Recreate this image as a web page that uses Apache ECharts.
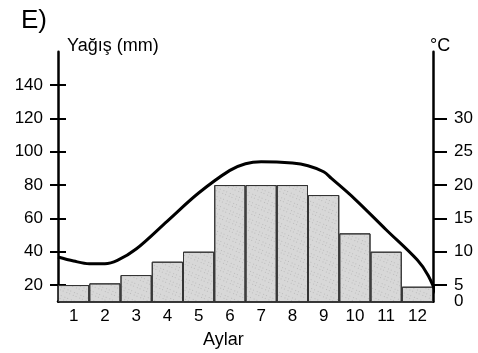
<!DOCTYPE html>
<html>
<head>
<meta charset="utf-8">
<script src="https://cdn.jsdelivr.net/npm/echarts@6/dist/echarts.min.js"></script>
<style>
html,body{margin:0;padding:0;background:#fff;}
#c{width:478px;height:353px;}
</style>
</head>
<body>
<div id="c"></div>
<script>
// Categories (months)
const months = ['1','2','3','4','5','6','7','8','9','10','11','12'];
// Precipitation (mm)
const rainfall = [20, 21, 26, 34, 40, 80, 80, 80, 74, 51, 40, 19];
// Temperature curve (°C) at month positions
const tempMonths = [0.5, 1, 1.5, 2, 2.4, 3, 4, 5, 6, 6.5, 7, 8, 8.5, 9, 9.25, 10, 11, 12, 12.35, 12.7];
const tempValues = [9.2, 8.6, 8.2, 8.2, 8.7, 10.4, 14.6, 18.8, 22.2, 23.2, 23.5, 23.3, 22.9, 22.0, 21.0, 17.9, 13.3, 8.75, 6.4, 2.6];
// Tick labels
const leftTicks = [20, 40, 60, 80, 100, 120, 140];
const rightTicks = [5, 10, 15, 20, 25, 30];
const rightZeroPos = 2.6;   // where the "0" label of the °C axis is printed (at the base line)

const FONT = 'Liberation Sans, Arial, sans-serif';
const chart = echarts.init(document.getElementById('c'), null, {renderer: 'canvas'});

const tempData = tempMonths.map((m, i) => [m, tempValues[i]]);

const rightLabel = {color: '#000', fontSize: 17, fontFamily: FONT, margin: 21};

chart.setOption({
  animation: false,
  backgroundColor: '#fff',
  grid: {left: 58, right: 45, top: 51.7, bottom: 51.3},
  graphic: [
    {type: 'text', left: 21, top: 8, style: {text: 'E)', font: '26px ' + FONT, fill: '#000'}},
    {type: 'text', left: 67, top: 37, style: {text: 'Yağış (mm)', font: '18px ' + FONT, fill: '#000'}},
    {type: 'text', left: 430, top: 37, style: {text: '°C', font: '18px ' + FONT, fill: '#000'}},
    {type: 'text', left: 203, top: 331, style: {text: 'Aylar', font: '18px ' + FONT, fill: '#000'}}
  ],
  xAxis: [
    {
      type: 'category', data: months, boundaryGap: true,
      axisLine: {show: true, lineStyle: {color: '#000', width: 2.5}},
      axisTick: {show: false},
      axisLabel: {color: '#000', fontSize: 17, fontFamily: FONT, margin: 6}
    },
    {type: 'value', min: 0.5, max: 12.5, show: false}
  ],
  yAxis: [
    {
      type: 'value', min: 10, max: 160, position: 'left',
      splitLine: {show: false},
      axisLine: {show: true, lineStyle: {color: '#000', width: 2.5}},
      axisTick: {show: true, length: 8, customValues: leftTicks, lineStyle: {color: '#000', width: 2}},
      axisLabel: {color: '#000', fontSize: 17, fontFamily: FONT, margin: 15, customValues: leftTicks}
    },
    {
      type: 'value', min: 2.5, max: 40, position: 'right',
      splitLine: {show: false},
      axisLine: {show: true, lineStyle: {color: '#000', width: 2.5}},
      axisTick: {show: true, length: 14, customValues: rightTicks, lineStyle: {color: '#000', width: 2}},
      axisLabel: Object.assign({customValues: rightTicks}, rightLabel)
    },
    {
      type: 'value', min: 10, max: 160, position: 'left',
      splitLine: {show: false},
      axisLine: {show: false},
      axisTick: {show: true, inside: true, length: 8, customValues: leftTicks, lineStyle: {color: '#000', width: 2}},
      axisLabel: {show: false}
    },
    {
      type: 'value', min: 2.5, max: 40, position: 'right',
      splitLine: {show: false},
      axisLine: {show: false},
      axisTick: {show: false},
      axisLabel: Object.assign({customValues: [rightZeroPos], showMinLabel: true, formatter: () => '0'}, rightLabel)
    }
  ],
  series: [
    {
      type: 'bar', data: rainfall, xAxisIndex: 0, yAxisIndex: 0,
      barCategoryGap: '0%',
      itemStyle: {
        color: '#d8d8d8', borderColor: '#333', borderWidth: 1,
        decal: {symbol: 'rect', symbolSize: 0.6, color: 'rgba(30,30,30,0.5)',
                dashArrayX: [[1, 2, 1, 3]], dashArrayY: [1, 2, 1, 4], rotation: 0.4}
      }
    },
    {
      type: 'line', data: tempData, xAxisIndex: 1, yAxisIndex: 1,
      smooth: 0.35, showSymbol: false, clip: false,
      lineStyle: {color: '#000', width: 3}
    }
  ]
});
</script>
</body>
</html>
